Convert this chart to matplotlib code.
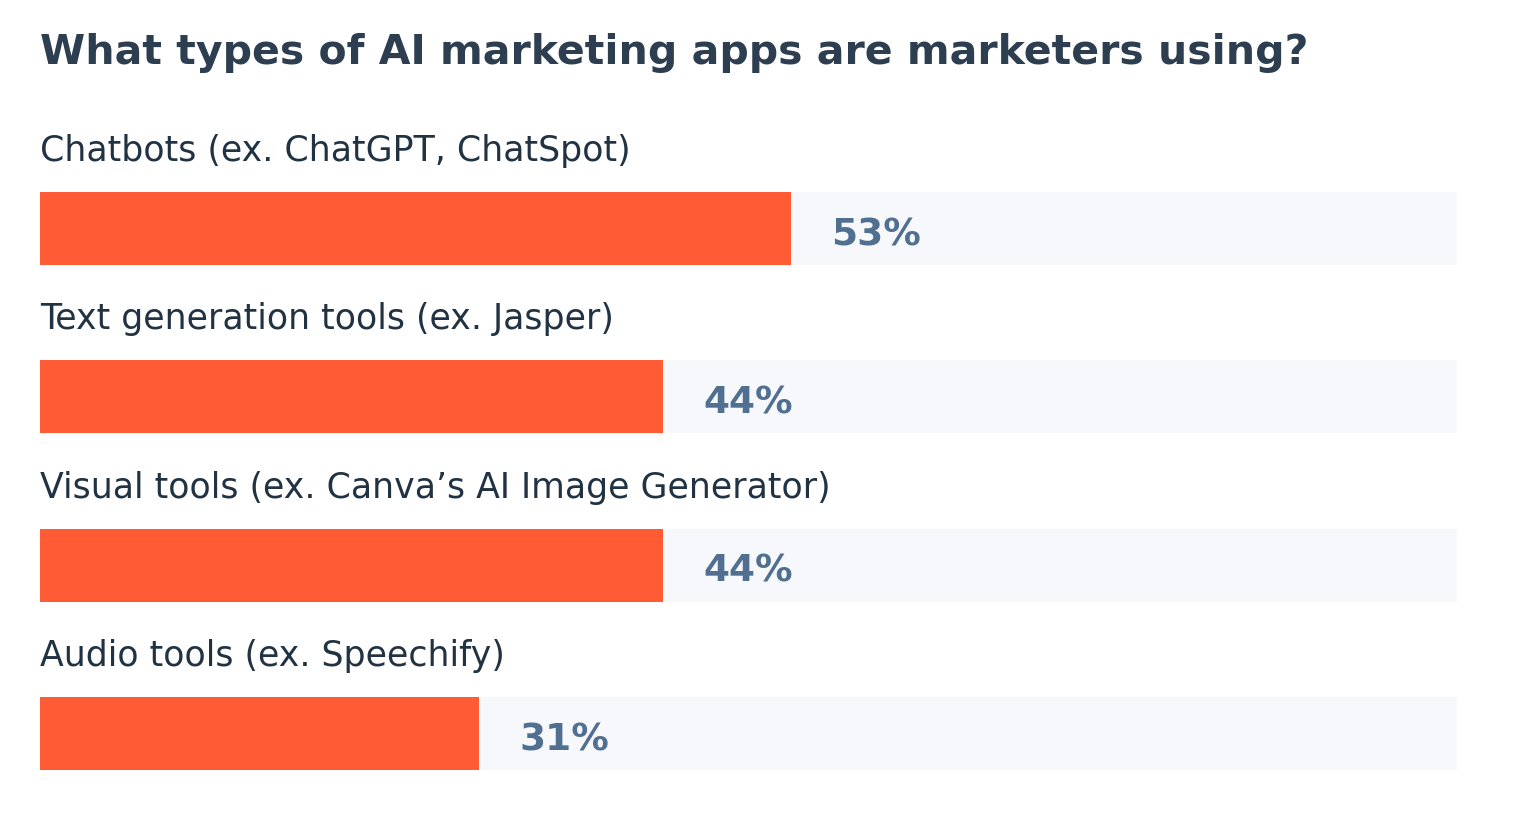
import matplotlib
matplotlib.use("Agg")
import matplotlib.pyplot as plt

categories = [
    "Chatbots (ex. ChatGPT, ChatSpot)",
    "Text generation tools (ex. Jasper)",
    "Visual tools (ex. Canva\u2019s AI Image Generator)",
    "Audio tools (ex. Speechify)",
]
values = [53, 44, 44, 31]
value_labels = ["53%", "44%", "44%", "31%"]
title = "What types of AI marketing apps are marketers using?"

W, H = 1526, 840
fig = plt.figure(figsize=(W / 100, H / 100), dpi=100)
fig.patch.set_facecolor("white")

left_px, right_px = 40, 1457
top_px, bot_px = 144.3, 817.7
ax = fig.add_axes([left_px / W, 1 - bot_px / H, (right_px - left_px) / W, (bot_px - top_px) / H])
ax.set_xlim(0, 100)
ax.set_ylim(len(categories) - 0.5, -0.5)
ax.axis("off")

ypos = list(range(len(categories)))
bh = 0.435
ax.barh(ypos, [100] * len(categories), height=bh, color="#f6f8fc", left=0)
ax.barh(ypos, values, height=bh, color="#ff5c35")

for y, v, lab, cat in zip(ypos, values, value_labels, categories):
    ax.text(v + 2.8, y + 0.04, lab, ha="left", va="center", fontsize=27,
            fontweight="bold", color="#516f90", family="DejaVu Sans")
    ax.text(0, y - 0.46, cat, ha="left", va="center", fontsize=25,
            color="#213343", family="DejaVu Sans")

fig.text(40 / W, 1 - 53 / H, title, ha="left", va="center", fontsize=29.5,
         fontweight="bold", color="#2d3e50", family="DejaVu Sans")

fig.savefig("out.png", dpi=100, facecolor="white")
